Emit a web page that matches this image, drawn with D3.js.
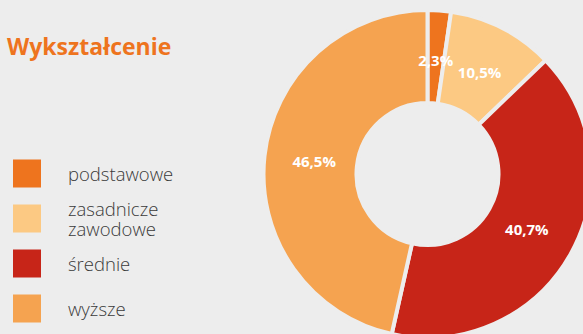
<!DOCTYPE html>
<html>
<head>
<meta charset="utf-8">
<script src="https://cdn.jsdelivr.net/npm/d3@7"></script>
<style>
  html, body { margin: 0; padding: 0; background: #ededed; }
  svg { display: block; }
</style>
</head>
<body>
<div id="chart"></div>
<script>
// data
const categories = ["podstawowe", "zasadnicze\nzawodowe", "średnie", "wyższe"];
const values = [2.3, 10.5, 40.7, 46.5];
const labels = ["2,3%", "10,5%", "40,7%", "46,5%"];
const colors = ["#ee741e", "#fcc983", "#c72518", "#f5a350"];
const title = "Wykształcenie";

const width = 583, height = 334;

var svg = d3.select("#chart")
  .append("svg")
    .attr("width", width)
    .attr("height", height);

svg.append("rect")
  .attr("width", width)
  .attr("height", height)
  .attr("fill", "#ededed");

// title
svg.append("text")
  .attr("x", 7)
  .attr("y", 55)
  .style("font-family", "'Open Sans', sans-serif")
  .style("font-weight", 700)
  .style("font-size", "23px")
  .style("fill", "#ee741e")
  .text(title);

// donut
var cx = 427.5, cy = 174;
var outerR = 164, innerR = 71;

var pie = d3.pie().sort(null).value(function(d) { return d; });
var arcs = pie(values);

var arc = d3.arc().innerRadius(innerR).outerRadius(outerR);
var labelArc = d3.arc().innerRadius(114).outerRadius(114);

var g = svg.append("g")
  .attr("transform", "translate(" + cx + "," + cy + ")");

g.selectAll(".slice")
  .data(arcs)
  .enter()
  .append("path")
    .attr("class", "slice")
    .attr("d", arc)
    .attr("fill", function(d, i) { return colors[i]; })
    .attr("stroke", "#ededed")
    .attr("stroke-width", 4)
    .attr("stroke-linejoin", "miter");

g.selectAll(".slice-label")
  .data(arcs)
  .enter()
  .append("text")
    .attr("class", "slice-label")
    .attr("transform", function(d) { return "translate(" + labelArc.centroid(d) + ")"; })
    .attr("text-anchor", "middle")
    .attr("dy", "0.35em")
    .style("font-family", "'Open Sans', sans-serif")
    .style("font-weight", 700)
    .style("font-size", "15px")
    .style("fill", "#ffffff")
    .text(function(d, i) { return labels[i]; });

// legend
var legendY = d3.scaleBand()
  .domain(d3.range(categories.length))
  .range([151, 331]);

var legend = svg.selectAll(".legend")
  .data(categories)
  .enter()
  .append("g")
    .attr("class", "legend")
    .attr("transform", function(d, i) { return "translate(13," + (legendY(i) + legendY.bandwidth() / 2) + ")"; });

legend.append("rect")
  .attr("x", 0)
  .attr("y", -14)
  .attr("width", 28)
  .attr("height", 28)
  .attr("fill", function(d, i) { return colors[i]; });

// one text per line so the two-line label stays two separate texts
legend.each(function(d) {
  var lines = d.split("\n");
  var item = d3.select(this);
  lines.forEach(function(line, j) {
    item.append("text")
      .attr("x", 55)
      .attr("y", (j - (lines.length - 1) / 2) * 20 + 7)
      .style("font-family", "'Open Sans', sans-serif")
      .style("font-weight", 300)
      .style("font-size", "18.5px")
      .style("fill", "#3a3a3a")
      .text(line);
  });
});
</script>
</body>
</html>
